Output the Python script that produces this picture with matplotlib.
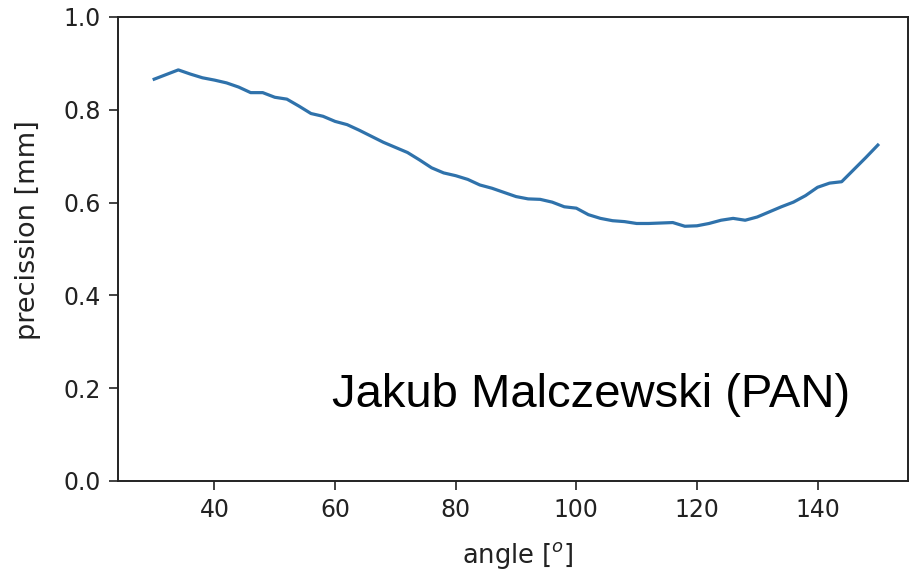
import numpy as np
import matplotlib
matplotlib.use("Agg")
import matplotlib.pyplot as plt

# kat [stopnie] i precyzja [mm]
angle = np.arange(30, 152, 2)
precission = [0.866, 0.876, 0.886, 0.877, 0.869, 0.864, 0.858, 0.849, 0.837, 0.837,
              0.827, 0.823, 0.808, 0.792, 0.786, 0.775, 0.768, 0.756, 0.743, 0.730,
              0.719, 0.708, 0.692, 0.675, 0.664, 0.658, 0.650, 0.638, 0.631, 0.622,
              0.613, 0.608, 0.607, 0.601, 0.591, 0.588, 0.574, 0.566, 0.561, 0.559,
              0.555, 0.555, 0.556, 0.557, 0.549, 0.550, 0.555, 0.562, 0.566, 0.562,
              0.569, 0.580, 0.591, 0.601, 0.615, 0.633, 0.642, 0.645, 0.671, 0.697,
              0.724]
xticks = [40, 60, 80, 100, 120, 140]
yticks = [0.0, 0.2, 0.4, 0.6, 0.8, 1.0]
note = "Jakub Malczewski (PAN)"

fig = plt.figure(figsize=(9.12, 5.7), dpi=100)
ax = fig.add_axes([118 / 912, 89 / 570, 790 / 912, 464 / 570])

ax.plot(angle, precission, color="#2f72ab", lw=2.3)

ax.set_xlim(24, 155)
ax.set_ylim(0, 1)
ax.set_xticks(xticks)
ax.set_yticks(yticks)
ax.tick_params(labelsize=17, length=6.5, width=1.2, pad=6, colors="#222222")
for s in ax.spines.values():
    s.set_linewidth(1.4)
    s.set_color("#222222")

ax.set_xlabel(r"angle [$^o$]", fontsize=18.5, color="#222222")
ax.set_ylabel("precission [mm]", fontsize=19.5, color="#222222")
ax.xaxis.set_label_coords(0.506, -0.127)
ax.yaxis.set_label_coords(-0.097, 0.54)

ax.text(0.2705, 0.159, note, transform=ax.transAxes, fontsize=34,
        family="Liberation Sans", va="baseline", ha="left")

fig.savefig("out.png", dpi=100)
